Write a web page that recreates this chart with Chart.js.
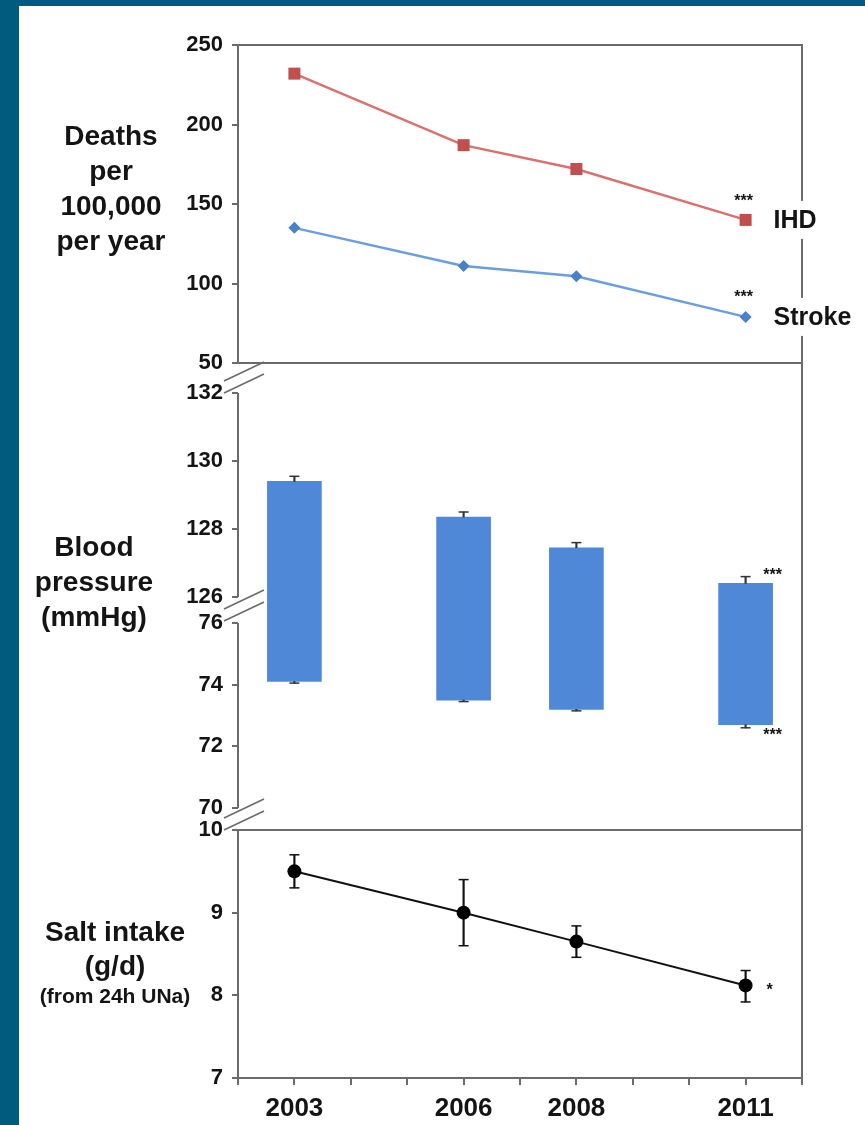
<!DOCTYPE html>
<html>
<head>
<meta charset="utf-8">
<script src="https://cdn.jsdelivr.net/npm/chart.js@4.4.0/dist/chart.umd.min.js"></script>
<style>
  html, body { margin: 0; padding: 0; background: #005b7f; }
  #wrap { position: absolute; left: 19px; top: 6px; width: 846px; height: 1119px; background: #fff; }
</style>
</head>
<body>
<div id="wrap"><canvas id="chart" width="846" height="1119"></canvas></div>
<script>
// data
var years = [2003, 2006, 2008, 2011];
var yearLabels = [2003, 2006, 2008, 2011];

var ihd = [232, 187, 172, 140];
var stroke = [135, 111, 104.5, 79];

var sbp = [129.4, 128.35, 127.45, 126.4];
var sbpErr = [129.55, 128.5, 127.6, 126.6];
var dbp = [74.1, 73.5, 73.2, 72.7];
var dbpErr = [74.05, 73.45, 73.15, 72.6];

var salt = [9.5, 9.0, 8.65, 8.12];
var saltHi = [9.7, 9.4, 8.84, 8.3];
var saltLo = [9.3, 8.6, 8.46, 7.92];

var deathTicks = [50, 100, 150, 200, 250];
var bpHighTicks = [126, 128, 130, 132];
var bpLowTicks = [70, 72, 74, 76];
var saltTicks = [7, 8, 9, 10];

// axis windows (broken axis)
var HI_MIN = 125.618, HI_MAX = 132.882;
var LO_MIN = 69.286, LO_MAX = 76.42;

var FONT = '"Liberation Sans", Arial, Helvetica, sans-serif';
var AXIS = '#6b6b6b';
var INK = '#141414';

function pts(vals) {
  return years.map(function (y, i) { return { x: y, y: vals[i] }; });
}
function ranges(a, b) {
  return years.map(function (y, i) { return { x: y, y: [a[i], b[i]] }; });
}
function fill(v) { return years.map(function () { return v; }); }

function yAxis(min, max, ticks, weight) {
  return {
    type: 'linear', position: 'left', stack: 'panels', stackWeight: weight,
    min: min, max: max,
    afterBuildTicks: function (s) { s.ticks = ticks.map(function (v) { return { value: v }; }); },
    afterFit: function (s) { s.width = 219; },
    border: { display: false },
    grid: { display: true, drawOnChartArea: false, drawTicks: true, tickLength: 6, color: AXIS, lineWidth: 2 },
    ticks: { font: { family: FONT, size: 22, weight: 'bold' }, color: INK, padding: 9 }
  };
}

var decorations = {
  id: 'decorations',
  afterDatasetsDraw: function (chart) {
    var ctx = chart.ctx, a = chart.chartArea, s = chart.scales;
    var xs = s.x;
    ctx.save();
    ctx.strokeStyle = AXIS;
    ctx.lineWidth = 2;
    ctx.lineCap = 'butt';

    // frame and panel dividers
    ctx.beginPath();
    ctx.moveTo(a.left, a.top); ctx.lineTo(a.right, a.top); ctx.lineTo(a.right, a.bottom);
    ctx.moveTo(a.left, s.yDeaths.bottom); ctx.lineTo(a.right, s.yDeaths.bottom);
    ctx.moveTo(a.left, s.ySalt.top); ctx.lineTo(a.right, s.ySalt.top);
    ctx.stroke();

    // left axis segments
    var segs = [[s.yDeaths, 250, 50], [s.yHi, 132, 126], [s.yLo, 76, 70], [s.ySalt, 10, 7]];
    ctx.beginPath();
    segs.forEach(function (g) {
      ctx.moveTo(a.left, g[0].getPixelForValue(g[1]));
      ctx.lineTo(a.left, g[0].getPixelForValue(g[2]));
    });
    ctx.stroke();

    // break marks
    ctx.lineWidth = 1.6;
    var breaks = [s.yHi.top + 9, s.yHi.top + 21, s.yHi.bottom - 10, s.yHi.bottom + 2, s.yLo.bottom - 21, s.yLo.bottom - 9];
    ctx.beginPath();
    breaks.forEach(function (y) {
      ctx.moveTo(a.left - 14, y + 9);
      ctx.lineTo(a.left + 26, y - 10);
    });
    ctx.stroke();

    ctx.fillStyle = INK;
    ctx.textAlign = 'center';
    ctx.textBaseline = 'middle';

    // panel titles
    ctx.font = 'bold 28px ' + FONT;
    [['Deaths', 131], ['per', 166], ['100,000', 201], ['per year', 236]].forEach(function (t) {
      ctx.fillText(t[0], 92, t[1]);
    });
    [['Blood', 542], ['pressure', 577], ['(mmHg)', 612]].forEach(function (t) {
      ctx.fillText(t[0], 75, t[1]);
    });
    ctx.fillText('Salt intake', 96, 927);
    ctx.fillText('(g/d)', 96, 961);
    ctx.font = 'bold 21px ' + FONT;
    ctx.fillText('(from 24h UNa)', 96, 991);

    // series labels with white backing over the frame
    var last = years.length - 1;
    var px = xs.getPixelForValue(years[last]);
    ctx.font = 'bold 25px ' + FONT;
    ctx.textAlign = 'left';
    [['IHD', s.yDeaths.getPixelForValue(ihd[last])], ['Stroke', s.yDeaths.getPixelForValue(stroke[last])]].forEach(function (t) {
      var w = ctx.measureText(t[0]).width;
      ctx.fillStyle = '#fff';
      ctx.fillRect(px + 24, t[1] - 19, w + 8, 38);
      ctx.fillStyle = INK;
      ctx.fillText(t[0], px + 28, t[1] + 1);
    });

    // significance marks
    ctx.font = 'bold 16px ' + FONT;
    ctx.textAlign = 'center';
    ctx.fillText('***', px - 2, s.yDeaths.getPixelForValue(ihd[last]) - 18);
    ctx.fillText('***', px - 2, s.yDeaths.getPixelForValue(stroke[last]) - 19);
    ctx.fillText('***', px + 27, s.yHi.getPixelForValue(sbpErr[last]) - 1);
    ctx.fillText('***', px + 27, s.yLo.getPixelForValue(dbpErr[last]) + 8);
    ctx.fillText('*', px + 24, s.ySalt.getPixelForValue(salt[last]) + 5);
    ctx.restore();
  }
};

var ctx = document.getElementById('chart').getContext('2d');
new Chart(ctx, {
  type: 'bar',
  data: {
    datasets: [
      {
        type: 'line', label: 'IHD', data: pts(ihd), yAxisID: 'yDeaths', order: 0,
        borderColor: '#d9716e', borderWidth: 2.5, pointStyle: 'rect', pointRadius: 8.5,
        pointBackgroundColor: '#c0504d', pointBorderWidth: 0
      },
      {
        type: 'line', label: 'Stroke', data: pts(stroke), yAxisID: 'yDeaths', order: 0,
        borderColor: '#6b9de0', borderWidth: 2.5, pointStyle: 'rectRot', pointRadius: 6,
        pointBackgroundColor: '#4a80c6', pointBorderWidth: 0
      },
      {
        label: 'SBP', data: ranges(fill(HI_MIN - 0.3), sbp), yAxisID: 'yHi', order: 3,
        backgroundColor: '#4f88d6', barThickness: 54, grouped: false, borderWidth: 0
      },
      {
        label: 'DBP', data: ranges(dbp, fill(LO_MAX)), yAxisID: 'yLo', order: 3,
        backgroundColor: '#4f88d6', barThickness: 54, grouped: false, borderWidth: 0
      },
      {
        label: 'SBP err', data: ranges(sbp, sbpErr), yAxisID: 'yHi', order: 2,
        backgroundColor: '#333', barThickness: 1.5, grouped: false, borderWidth: 0
      },
      {
        type: 'line', label: 'SBP cap', data: pts(sbpErr), yAxisID: 'yHi', order: 1, showLine: false,
        pointStyle: 'line', pointRadius: 5, pointBorderWidth: 1.5, pointBorderColor: '#333'
      },
      {
        label: 'DBP err', data: ranges(dbpErr, dbp), yAxisID: 'yLo', order: 2,
        backgroundColor: '#333', barThickness: 1.5, grouped: false, borderWidth: 0
      },
      {
        type: 'line', label: 'DBP cap', data: pts(dbpErr), yAxisID: 'yLo', order: 1, showLine: false,
        pointStyle: 'line', pointRadius: 5, pointBorderWidth: 1.5, pointBorderColor: '#333'
      },
      {
        label: 'Salt err', data: ranges(saltLo, saltHi), yAxisID: 'ySalt', order: 2,
        backgroundColor: '#111', barThickness: 1.5, grouped: false, borderWidth: 0
      },
      {
        type: 'line', label: 'Salt hi', data: pts(saltHi), yAxisID: 'ySalt', order: 1, showLine: false,
        pointStyle: 'line', pointRadius: 5, pointBorderWidth: 1.5, pointBorderColor: '#111'
      },
      {
        type: 'line', label: 'Salt lo', data: pts(saltLo), yAxisID: 'ySalt', order: 1, showLine: false,
        pointStyle: 'line', pointRadius: 5, pointBorderWidth: 1.5, pointBorderColor: '#111'
      },
      {
        type: 'line', label: 'Salt', data: pts(salt), yAxisID: 'ySalt', order: 0,
        borderColor: '#111', borderWidth: 2, pointStyle: 'circle', pointRadius: 7,
        pointBackgroundColor: '#000', pointBorderWidth: 0
      }
    ]
  },
  options: {
    responsive: false,
    animation: false,
    layout: { padding: { left: 0, top: 39, right: 63, bottom: 0 } },
    plugins: { legend: { display: false }, tooltip: { enabled: false } },
    scales: {
      x: {
        type: 'linear', position: 'bottom', min: 2002, max: 2012, offset: false,
        afterFit: function (s) { s.height = 47; },
        border: { display: true, color: AXIS, width: 2 },
        grid: { display: true, offset: false, drawOnChartArea: false, drawTicks: true, tickLength: 7, color: AXIS, lineWidth: 2 },
        ticks: {
          stepSize: 1, autoSkip: false, maxRotation: 0, padding: 8,
          font: { family: FONT, size: 26, weight: 'bold' }, color: INK,
          callback: function (v) { return yearLabels.indexOf(v) >= 0 ? String(v) : ''; }
        }
      },
      // left stacked axes are laid out in reverse: last defined sits on top
      ySalt: yAxis(7, 10, saltTicks, 248),
      yLo: yAxis(LO_MIN, LO_MAX, bpLowTicks, 220),
      yHi: yAxis(HI_MIN, HI_MAX, bpHighTicks, 247),
      yDeaths: yAxis(50, 250, deathTicks, 318)
    }
  },
  plugins: [decorations]
});
</script>
</body>
</html>
